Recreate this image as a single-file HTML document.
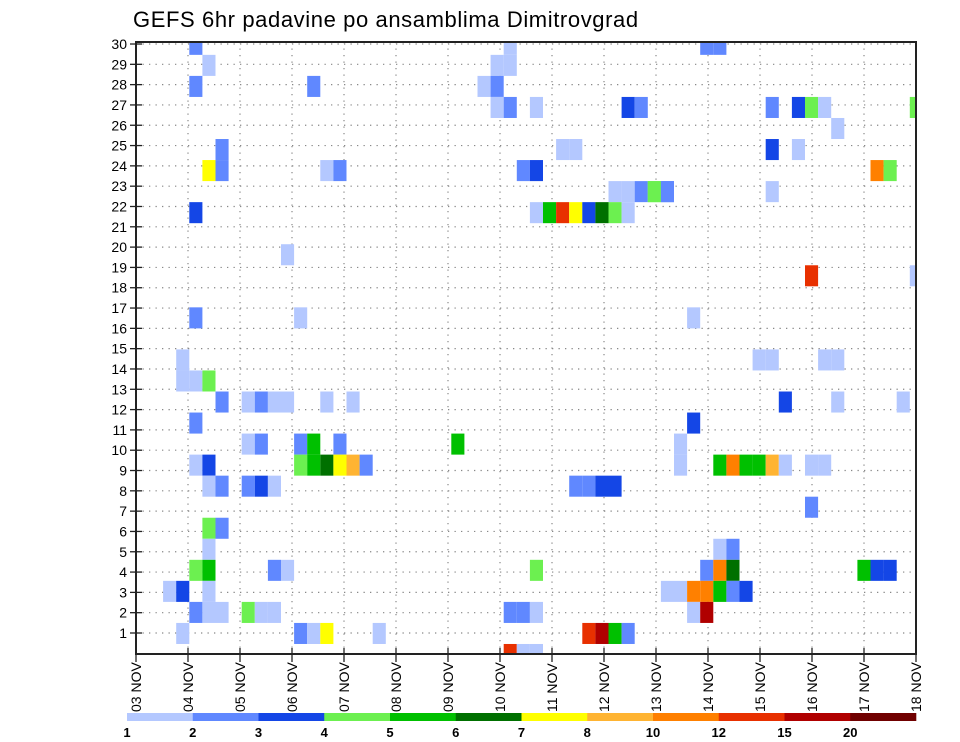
<!DOCTYPE html>
<html><head><meta charset="utf-8"><style>
html,body{margin:0;padding:0;background:#fff;}
svg{display:block;font-family:"Liberation Sans",sans-serif;}
</style></head><body>
<svg id="chart" width="960" height="742" viewBox="0 0 960 742" xmlns="http://www.w3.org/2000/svg">
<text x="133" y="27" font-size="22" letter-spacing="0.6" fill="#000">GEFS 6hr padavine po ansamblima Dimitrovgrad</text>
<defs><clipPath id="plotclip"><rect x="136" y="42" width="780" height="612"/></clipPath></defs>
<g id="grid"></g>
<g id="cells" clip-path="url(#plotclip)"></g>
<rect x="136" y="42" width="780" height="612" fill="none" stroke="#222" stroke-width="2"/>
<g id="yaxis"></g>
<g id="xaxis"></g>
<g id="legend"></g>
</svg>
<script>
// Ensemble member index (0 = bottom row), 6-hourly step index, precipitation value (mm)
const members = [29,28,27,27,24,23,23,23,23,21,19,16,16,
 14,13,13,13,12,12,12,12,12,12,12,11,10,10,10,10,10,9,9,9,9,9,9,9,9,8,8,8,8,8,6,6,5,4,4,4,4,3,3,3,2,2,2,2,2,2,1,1,1,1,1,
 29,28,28,27,27,26,26,26,26,26,24,24,23,23,22,22,22,22,22,21,21,21,21,21,21,21,21,
 10,8,8,8,8,4,2,2,2,1,1,1,1,0,0,0,
 29,29,26,26,26,26,26,25,24,24,23,23,22,22,22,18,18,16,
 14,14,14,14,12,12,12,11,10,9,9,9,9,9,9,9,9,9,7,5,5,4,4,4,4,4,4,3,3,3,3,3,3,3,2,2];
const steps = [4,5,4,13,6,5,6,14,15,4,11,4,12,
 3,3,4,5,6,8,9,10,11,14,16,4,8,9,12,13,15,4,5,12,13,14,15,16,17,5,6,8,9,10,5,6,5,4,5,10,11,2,3,5,4,5,6,8,9,10,3,12,13,14,18,
 28,27,28,26,27,27,28,30,37,38,32,33,29,30,36,37,38,39,40,30,31,32,33,34,35,36,37,
 24,33,34,35,36,30,28,29,30,34,35,36,37,28,29,30,
 43,44,48,50,51,52,59,53,48,50,56,57,39,40,48,51,59,42,
 47,48,52,53,49,53,58,42,41,41,44,45,46,47,48,49,51,52,51,44,45,43,44,45,55,56,57,40,41,42,43,44,45,46,42,43];
const values = [2.5,1.5,2.5,2.5,2.5,7.5,2.5,1.5,2.5,3.5,1.5,2.5,1.5,
 1.5,1.5,1.5,4.5,2.5,1.5,2.5,1.5,1.5,1.5,1.5,2.5,1.5,2.5,2.5,5.5,2.5,1.5,3.5,4.5,5.5,6.5,7.5,9,2.5,1.5,2.5,2.5,3.5,1.5,4.5,2.5,1.5,4.5,5.5,2.5,1.5,1.5,3.5,1.5,2.5,1.5,1.5,4.5,1.5,1.5,1.5,2.5,1.5,7.5,1.5,
 1.5,1.5,1.5,1.5,2.5,1.5,2.5,1.5,3.5,2.5,1.5,1.5,2.5,3.5,1.5,1.5,2.5,4.5,2.5,1.5,5.5,13.5,7.5,3.5,6.5,4.5,1.5,
 5.5,2.5,2.5,3.5,3.5,4.5,2.5,2.5,1.5,13.5,17,5.5,2.5,13.5,1.5,1.5,
 2.5,2.5,2.5,3.5,4.5,1.5,4.5,1.5,3.5,1.5,11,4.5,4.5,2.5,1.5,13.5,1.5,1.5,
 1.5,1.5,1.5,1.5,3.5,1.5,1.5,3.5,1.5,1.5,5.5,11,5.5,5.5,9,1.5,1.5,1.5,2.5,1.5,2.5,2.5,11,6.5,5.5,3.5,3.5,1.5,1.5,11,11,5.5,2.5,3.5,1.5,17];
const yTickLabels = [1,2,3,4,5,6,7,8,9,10,11,12,13,14,15,16,17,18,19,20,21,22,23,24,25,26,27,28,29,30];
const xTickLabels = ["03 NOV","04 NOV","05 NOV","06 NOV","07 NOV","08 NOV","09 NOV","10 NOV","11 NOV","12 NOV","13 NOV","14 NOV","15 NOV","16 NOV","17 NOV","18 NOV"];
const levels = [1,2,3,4,5,6,7,8,10,12,15,20];
const levelLabels = ["1","2","3","4","5","6","7","8","10","12","15","20"];
const levelColors = ["#b4c8ff","#6088ff","#1446e6","#6cf050","#00c000","#007000","#ffff00","#ffb432","#ff8000","#e83000","#b00000","#700000"];

const NS="http://www.w3.org/2000/svg";
function mk(tag,attrs){const e=document.createElementNS(NS,tag);for(const k in attrs)e.setAttribute(k,attrs[k]);return e;}
const cellX = s => 136.9 + 13.1*s;
const cellW = 13.1;
const cellY = m => 654.5 - 21.04*m - 10.52;
const cellH = 21.04;
const tickY = n => 633 - 20.31*(n-1);
const dayX = i => 136 + 52*i;
function colorFor(v){let c=null;for(let i=0;i<levels.length;i++){if(v>=levels[i])c=levelColors[i];}return c;}

const grid=document.getElementById('grid');
yTickLabels.forEach(n=>{
  const l=mk('line',{x1:136,x2:916,y1:tickY(n),y2:tickY(n),stroke:'#888','stroke-width':1.2,'stroke-dasharray':'1.3 5.2'});
  
  
  grid.appendChild(l);
});
xTickLabels.forEach((t,i)=>{
  const l=mk('line',{x1:dayX(i),x2:dayX(i),y1:42,y2:654,stroke:'#888','stroke-width':1.2,'stroke-dasharray':'1.3 5.2'});
  
  
  grid.appendChild(l);
});

const cg=document.getElementById('cells');
for(let i=0;i<values.length;i++){
  const c=colorFor(values[i]); if(!c)continue;
  const r=mk('rect',{x:cellX(steps[i]),y:cellY(members[i]),width:cellW,height:cellH,fill:c});
  
  
  cg.appendChild(r);
}

const ya=document.getElementById('yaxis');
yTickLabels.forEach(n=>{
  const y=tickY(n);
  const t=mk('line',{x1:130,x2:142,y1:y,y2:y,stroke:'#222','stroke-width':1.3});
  
  
  ya.appendChild(t);
  const tx=mk('text',{x:127,y:y+5,'text-anchor':'end','font-size':14,fill:'#000'});
  tx.textContent=n;
  
  
  ya.appendChild(tx);
});

const xa=document.getElementById('xaxis');
xTickLabels.forEach((s,i)=>{
  const x=dayX(i);
  const t=mk('line',{x1:x,x2:x,y1:648,y2:662,stroke:'#222','stroke-width':1.3});
  
  
  xa.appendChild(t);
  const tx=mk('text',{x:0,y:0,'font-size':14,fill:'#000',transform:`translate(${x+5},712) rotate(-90)`});
  tx.textContent=s;
  
  
  xa.appendChild(tx);
});

const lg=document.getElementById('legend');
const lx0=127, lw=(916-127)/levels.length;
levels.forEach((v,i)=>{
  const r=mk('rect',{x:lx0+lw*i,y:713,width:lw+0.3,height:8,fill:levelColors[i]});
  
  
  lg.appendChild(r);
  const tx=mk('text',{x:lx0+lw*i,y:737,'text-anchor':'middle','font-size':13,'font-weight':'bold',fill:'#000'});
  tx.textContent=levelLabels[i];
  
  
  lg.appendChild(tx);
});
</script>
</body></html>
